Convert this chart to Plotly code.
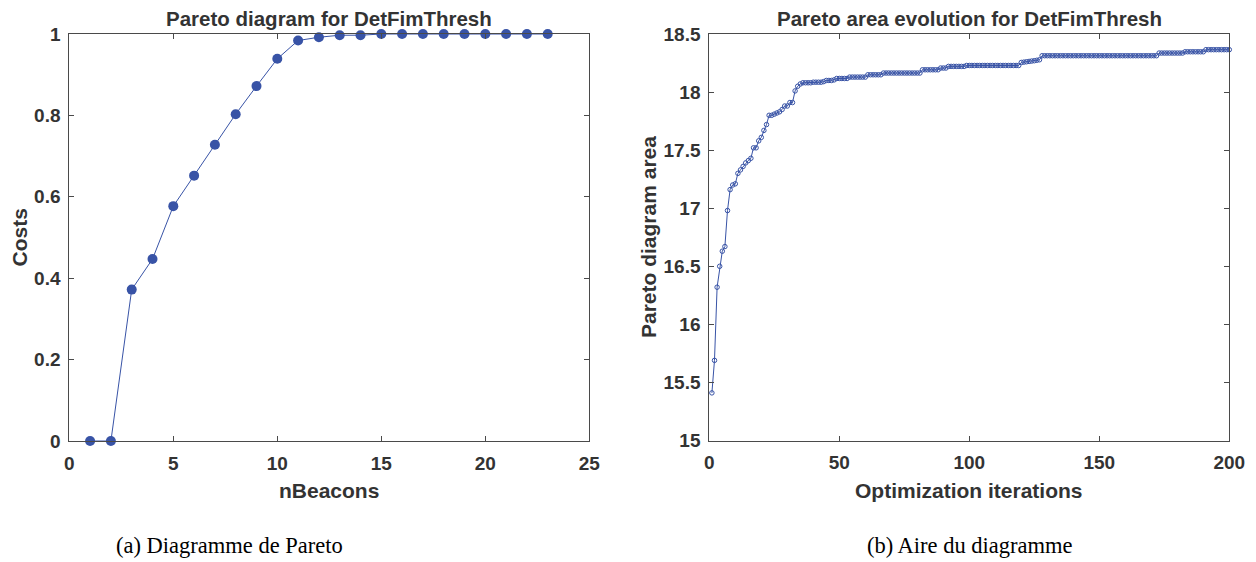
import plotly.graph_objects as go

# ---------------- data ----------------
n_beacons = list(range(1, 24))
costs = [0.0, 0.0, 0.372, 0.447, 0.577, 0.652, 0.728, 0.803, 0.872, 0.939,
         0.984, 0.992, 0.997, 0.997, 1.0, 1.0, 1.0, 1.0, 1.0, 1.0,
         1.0, 1.0, 1.0]

iterations = list(range(1, 201))
pareto_area = [
    15.41, 15.69, 16.32, 16.50, 16.63, 16.67, 16.98, 17.16, 17.20, 17.21,
    17.30, 17.33, 17.36, 17.39, 17.41, 17.43, 17.52, 17.52, 17.58, 17.61,
    17.67, 17.72, 17.80, 17.80, 17.81, 17.82, 17.83, 17.85, 17.88, 17.88,
    17.91, 17.91, 18.01, 18.05, 18.07, 18.08, 18.08, 18.08, 18.08, 18.085,
    18.085, 18.085, 18.085, 18.09, 18.10, 18.10, 18.10, 18.105, 18.117, 18.117,
    18.117, 18.117, 18.117, 18.129, 18.129, 18.129, 18.129, 18.129, 18.129, 18.129,
    18.149, 18.149, 18.149, 18.149, 18.149, 18.149, 18.164, 18.164, 18.164, 18.164,
    18.164, 18.164, 18.164, 18.164, 18.164, 18.164, 18.164, 18.164, 18.164, 18.164,
    18.164, 18.192, 18.192, 18.192, 18.192, 18.192, 18.192, 18.192, 18.207, 18.207,
    18.207, 18.221, 18.221, 18.221, 18.221, 18.221, 18.221, 18.221, 18.229, 18.229,
    18.229, 18.229, 18.229, 18.229, 18.229, 18.229, 18.229, 18.229, 18.229, 18.229,
    18.229, 18.229, 18.229, 18.229, 18.229, 18.229, 18.229, 18.229, 18.229, 18.255,
    18.258, 18.261, 18.264, 18.267, 18.270, 18.274, 18.278, 18.313, 18.313, 18.313,
    18.313, 18.313, 18.313, 18.313, 18.313, 18.313, 18.313, 18.313, 18.313, 18.313,
    18.313, 18.313, 18.313, 18.313, 18.313, 18.313, 18.313, 18.313, 18.313, 18.313,
    18.313, 18.313, 18.313, 18.313, 18.313, 18.313, 18.313, 18.313, 18.313, 18.313,
    18.313, 18.313, 18.313, 18.313, 18.313, 18.313, 18.313, 18.313, 18.313, 18.313,
    18.313, 18.313, 18.336, 18.336, 18.336, 18.336, 18.336, 18.336, 18.336, 18.336,
    18.336, 18.336, 18.347, 18.347, 18.347, 18.347, 18.347, 18.347, 18.347, 18.347,
    18.365, 18.365, 18.365, 18.365, 18.365, 18.365, 18.365, 18.365, 18.365, 18.365,
]

left_xticks = [0, 5, 10, 15, 20, 25]
left_yticks = [0, 0.2, 0.4, 0.6, 0.8, 1]
right_xticks = [0, 50, 100, 150, 200]
right_yticks = [15, 15.5, 16, 16.5, 17, 17.5, 18, 18.5]

# ---------------- style ----------------
PAGE_OFF = 8             # default page body margin
W, H = 1256 - PAGE_OFF, 562 - PAGE_OFF
BLUE = "#3853a6"
TXT = "#333333"
AX = "#4a4a4a"
SANS = "Liberation Sans, Arial, sans-serif"
SERIF = "Liberation Serif, Times New Roman, serif"

# axes boxes in window pixels (left, right, top, bottom)
L_BOX = (69.3, 589.3, 34.0, 441.0)
R_BOX = (709.3, 1229.3, 34.0, 440.5)


def px2x(px):
    return (px - PAGE_OFF) / W


def px2y(py):
    return 1 - (py - PAGE_OFF) / H


def xdom(b):
    return [px2x(b[0]), px2x(b[1])]


def ydom(b):
    return [px2y(b[3]), px2y(b[2])]


fig = go.Figure()

fig.add_trace(go.Scatter(
    x=n_beacons, y=costs, mode="lines+markers",
    line=dict(color=BLUE, width=1),
    marker=dict(color=BLUE, size=10, line=dict(width=0)),
    xaxis="x", yaxis="y", showlegend=False, cliponaxis=False,
))

fig.add_trace(go.Scatter(
    x=iterations, y=pareto_area, mode="lines+markers",
    line=dict(color=BLUE, width=1),
    marker=dict(color=BLUE, size=4.5, symbol="circle-open",
                line=dict(color=BLUE, width=1)),
    xaxis="x2", yaxis="y2", showlegend=False, cliponaxis=False,
))

axis_common = dict(
    showline=True, linecolor=AX, linewidth=1, mirror="ticks",
    ticks="inside", ticklen=5, tickwidth=1, tickcolor=AX,
    showgrid=False, zeroline=False, automargin=False,
    tickfont=dict(family=SANS, size=19, color=TXT, weight="bold"),
)

fig.update_layout(
    width=W, height=H, autosize=False,
    margin=dict(l=0, r=0, t=0, b=0, pad=0, autoexpand=False),
    paper_bgcolor="white", plot_bgcolor="white",
    xaxis=dict(domain=xdom(L_BOX), range=[0, 25], tickvals=left_xticks,
               ticktext=[str(v) for v in left_xticks], anchor="y",
               ticklabelstandoff=5, **axis_common),
    yaxis=dict(domain=ydom(L_BOX), range=[0, 1], tickvals=left_yticks,
               ticktext=["0", "0.2", "0.4", "0.6", "0.8", "1"], anchor="x",
               ticklabelstandoff=4, **axis_common),
    xaxis2=dict(domain=xdom(R_BOX), range=[0, 200], tickvals=right_xticks,
                ticktext=[str(v) for v in right_xticks], anchor="y2",
                ticklabelstandoff=5, **axis_common),
    yaxis2=dict(domain=ydom(R_BOX), range=[15, 18.5], tickvals=right_yticks,
                ticktext=["15", "15.5", "16", "16.5", "17", "17.5", "18", "18.5"],
                anchor="x2", ticklabelstandoff=4, **axis_common),
)


def ann(text, xpx, ypx, size, family=SANS, bold=True, angle=0):
    fig.add_annotation(
        text=text, xref="paper", yref="paper",
        x=px2x(xpx), y=px2y(ypx), xanchor="center", yanchor="middle",
        showarrow=False, textangle=angle,
        font=dict(family=family, size=size, color=TXT if bold else "#000000",
                  weight="bold" if bold else "normal"),
    )


# titles
ann("Pareto diagram for DetFimThresh", 329.3, 18, 20.5)
ann("Pareto area evolution for DetFimThresh", 969.3, 18, 20.5)
# axis titles
ann("nBeacons", 329.3, 490, 21)
ann("Optimization iterations", 969.3, 490, 21)
ann("Costs", 19, 237.5, 21, angle=-90)
ann("Pareto diagram area", 648, 237, 21, angle=-90)
# captions
ann("(a) Diagramme de Pareto", 229.5, 545, 22.5, family=SERIF, bold=False)
ann("(b) Aire du diagramme", 969.5, 545, 22.5, family=SERIF, bold=False)

fig.write_html("out.html")
